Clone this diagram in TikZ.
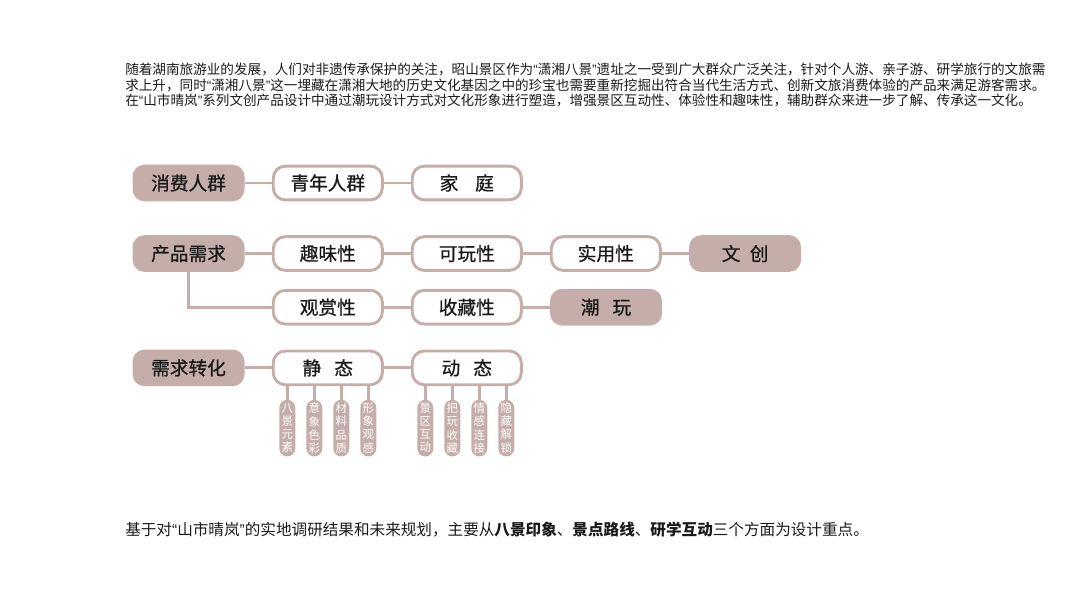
\documentclass[tikz,border=0pt]{standalone}
\usepackage{fontspec}
\setmainfont{Noto Sans CJK SC}
\newfontfamily\latinfont{Liberation Sans}
\newfontfamily\boxfont[FakeBold=0.8]{Noto Sans CJK SC}
\usepackage{xcolor}
\usetikzlibrary{positioning}
\definecolor{TMauve}{HTML}{C5AEA9}
\definecolor{TInk}{HTML}{1A1A1A}
\newcommand\quo[1]{{\latinfont “}#1{\latinfont ”}}

\begin{document}
\begin{tikzpicture}[
  node distance=20.25pt,
  hb/.style={fill=TMauve,rounded corners=9pt,minimum width=84pt,minimum height=27.5pt,
    inner sep=0pt,font=\boxfont\fontsize{14}{16}\selectfont,text=TInk},
  wb/.style={hb,fill=white,draw=TMauve,line width=2.2pt,
    minimum width=81.8pt,minimum height=25.3pt},
  tg/.style={fill=TMauve,rounded corners=6pt,minimum width=12pt,minimum height=42.5pt,
    inner sep=0pt,text width=12pt,align=center,font=\fontsize{8.6}{9.8}\selectfont,text=white},
  ln/.style={draw=TMauve,line width=2.2pt},
  para/.style={anchor=west,inner sep=0pt,text=TInk,font=\fontsize{10.2}{12}\selectfont}
]
  \useasboundingbox (0,0) rectangle (799.5pt,-450pt);
  % intro text
  \node[para] (p1) at (93.75pt,-52pt)
    {随着湖南旅游业的发展，人们对非遗传承保护的关注，昭山景区作为\quo{潇湘八景}遗址之一受到广大群众广泛关注，针对个人游、亲子游、研学旅行的文旅需};
  \node[para] (p2) at ([yshift=-11.8pt]p1.west)
    {求上升，同时\quo{潇湘八景}这一埋藏在潇湘大地的历史文化基因之中的珍宝也需要重新挖掘出符合当代生活方式、创新文旅消费体验的产品来满足游客需求。};
  \node[para] (p3) at ([yshift=-11.8pt]p2.west)
    {在\quo{山市晴岚}系列文创产品设计中通过潮玩设计方式对文化形象进行塑造，增强景区互动性、体验性和趣味性，辅助群众来进一步了解、传承这一文化。};
  % row 1
  \node[hb] (people) at (141.4pt,-137.25pt) {消费人群};
  \node[wb,right=of people] (youth) {青年人群};
  \node[wb,right=of youth] (family) {家\hspace{0.9em}庭};
  % row 2 and 3
  \node[hb,below=25pt of people] (need) {产品需求};
  \node[wb,right=of need] (fun) {趣味性};
  \node[wb,right=of fun] (play) {可玩性};
  \node[wb,right=of play] (use) {实用性};
  \node[hb,right=of use] (wenchuang) {文\hspace{0.5em}创};
  \node[wb,below=12.75pt of fun] (view) {观赏性};
  \node[wb,right=of view] (collect) {收藏性};
  \node[hb,right=of collect] (chaowan) {潮\hspace{0.7em}玩};
  % row 4
  \node[wb,below=18pt of view] (static) {静\hspace{0.7em}态};
  \node[hb,left=of static] (convert) {需求转化};
  \node[wb,right=of static] (dynamic) {动\hspace{0.7em}态};
  \foreach \x/\y in {people/youth,youth/family,need/fun,fun/play,play/use,use/wenchuang,
    view/collect,collect/chaowan,convert/static,static/dynamic}
    {\draw[ln] (\x) -- (\y);}
  \draw[ln] (need.south) |- (view.west);
  % vertical tags
  \foreach \txt [count=\i] in {八\\景\\元\\素,意\\象\\色\\彩,材\\料\\品\\质,形\\象\\观\\感}
    {\node[tg,anchor=north] (sa\i) at ([xshift={(\i-2.5)*20.25pt},yshift=-10pt]static.south) {\txt};
     \draw[ln] (sa\i.north) -- (sa\i.north |- static.south);}
  \foreach \txt [count=\i] in {景\\区\\互\\动,把\\玩\\收\\藏,情\\感\\连\\接,隐\\藏\\解\\锁}
    {\node[tg,anchor=north] (da\i) at ([xshift={(\i-2.5)*20.25pt-0.75pt},yshift=-10pt]dynamic.south) {\txt};
     \draw[ln] (da\i.north) -- (da\i.north |- dynamic.south);}
  % closing text
  \node[para,font=\fontsize{11.7}{14}\selectfont] (p4) at (93.75pt,-397.5pt)
    {基于对\quo{山市晴岚}的实地调研结果和未来规划，主要从\textbf{八景印象}、\textbf{景点路线}、\textbf{研学互动}三个方面为设计重点。};
\end{tikzpicture}
\end{document}
